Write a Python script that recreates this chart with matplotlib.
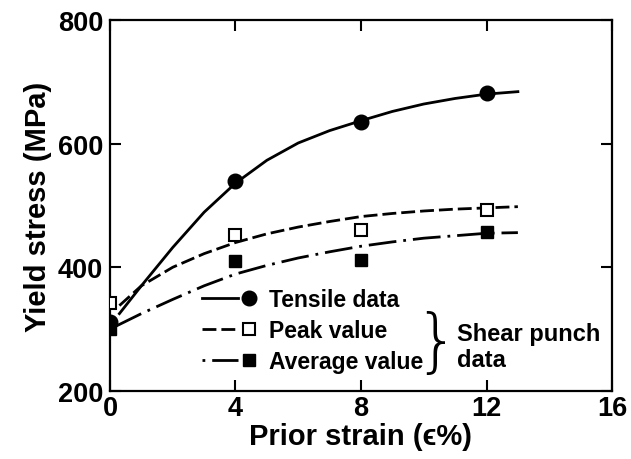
import matplotlib
matplotlib.use('Agg')
import matplotlib.pyplot as plt
from matplotlib.lines import Line2D
from matplotlib.legend_handler import HandlerTuple

# measured yield stress at each prior strain
strain = [0, 4, 8, 12]
tensile = [312, 540, 635, 682]
peak = [342, 452, 460, 492]
average = [300, 410, 412, 457]

# trend curves drawn through the data
fit_x = [0.3, 1, 2, 3, 4, 5, 6, 7, 8, 9, 10, 11, 12, 13]
tensile_fit = [325, 370, 432, 489, 536, 573, 601, 621, 637, 652, 664, 673, 680, 684]
peak_fit = [338, 370, 400, 422, 440, 454, 465, 474, 482, 487, 491, 494, 496, 498]
avg_fit_x = [0.2, 1, 2, 3, 4, 5, 6, 7, 8, 9, 10, 11, 12, 13]
average_fit = [305, 325, 348, 370, 389, 403, 415, 425, 434, 441, 447, 451, 455, 456]

plt.rcParams['font.family'] = ['Liberation Sans', 'DejaVu Sans']
plt.rcParams['font.weight'] = 'bold'

fig = plt.figure(figsize=(6.31, 4.60), dpi=100)
ax = fig.add_axes([0.1743, 0.148, 0.7956, 0.8065])

lw = 2.0
dash = (5, 1.8)
dashdot = (10, 2.5, 1, 2.5)

ax.plot(fit_x, tensile_fit, color='black', lw=lw, ls='-')
ax.plot(fit_x, peak_fit, color='black', lw=lw, ls=(0, dash))
ax.plot(avg_fit_x, average_fit, color='black', lw=lw, ls=(0, dashdot))

ax.plot(strain, tensile, 'o', color='black', ms=10.5, zorder=5)
ax.plot(strain, peak, 's', mfc='white', mec='black', mew=1.5, ms=9, zorder=5)
ax.plot(strain, average, 's', color='black', ms=9, zorder=5)

ax.set_xlim(0, 16)
ax.set_ylim(200, 800)
ax.set_xticks([0, 4, 8, 12, 16])
ax.set_yticks([200, 400, 600, 800])
ax.tick_params(direction='in', length=8, width=1.5, top=True, right=True,
               labelsize=19.5)
ax.tick_params(axis='y', pad=5)
ax.tick_params(axis='x', pad=3)
for s in ax.spines.values():
    s.set_linewidth(1.6)

ax.set_xlabel('Prior strain (\u03f5%)', fontsize=21, fontweight='bold', labelpad=1)
ax.set_ylabel('Yield stress (MPa)', fontsize=21, fontweight='bold', labelpad=4)

# legend entries: line sample followed by marker
l1 = Line2D([], [], color='black', lw=lw, ls='-')
m1 = Line2D([], [], color='black', marker='o', ls='none', ms=10.5)
l2 = Line2D([], [], color='black', lw=lw, ls=(0, dash))
m2 = Line2D([], [], marker='s', mfc='white', mec='black', mew=1.5, ls='none', ms=9)
l3 = Line2D([], [], color='black', lw=lw, ls=(0, (1, 2.5, 10, 2.5)))
m3 = Line2D([], [], color='black', marker='s', ls='none', ms=9)
ax.legend([(l1, m1), (l2, m2), (l3, m3)],
          ['Tensile data', 'Peak value', 'Average value'],
          handler_map={tuple: HandlerTuple(ndivide=None, pad=-0.27)},
          loc='upper left', bbox_to_anchor=(0.183, 0.278), frameon=False,
          fontsize=16.5, handlelength=2.85, handletextpad=0.1,
          labelspacing=0.36, borderpad=0, borderaxespad=0)

# thin brace grouping the two shear punch entries
ax.text(10.4, 276, '}', family='DejaVu Sans', fontsize=50, fontweight=200,
        ha='center', va='center')
ax.text(11.05, 272, 'Shear punch\ndata', fontsize=17, fontweight='bold',
        ha='left', va='center', linespacing=1.15)

fig.savefig('out.png', dpi=100)
